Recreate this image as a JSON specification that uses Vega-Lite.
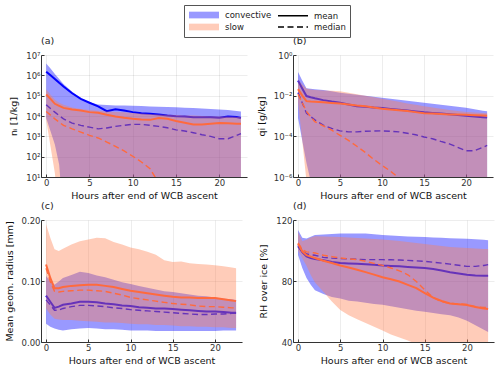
{
"$schema": "https://vega.github.io/schema/vega-lite/v6.json",
"padding": {"left": 4, "top": 4, "right": 1, "bottom": 1},
"data": {"values": [
{"p":"a","g":"convective","h":0,"lo":7940,"hi":3.8e6,"mean":1.51e6,"median":35500},
{"p":"a","g":"convective","h":0.5,"lo":1780,"hi":2.14e6,"mean":1.0e6,"median":23400},
{"p":"a","g":"convective","h":1,"lo":398,"hi":1.17e6,"mean":6.61e5,"median":15500},
{"p":"a","g":"convective","h":1.5,"lo":39.8,"hi":6.61e5,"mean":4.27e5,"median":10500},
{"p":"a","g":"convective","h":2,"lo":0.1,"hi":3.8e5,"mean":2.82e5,"median":7240},
{"p":"a","g":"convective","h":3,"lo":0.1,"hi":1.58e5,"mean":1.32e5,"median":4470},
{"p":"a","g":"convective","h":4,"lo":0.1,"hi":7.41e4,"mean":6.92e4,"median":3470},
{"p":"a","g":"convective","h":5,"lo":0.1,"hi":4.68e4,"mean":4.47e4,"median":2820},
{"p":"a","g":"convective","h":6,"lo":0.1,"hi":3.63e4,"mean":2.95e4,"median":2340},
{"p":"a","g":"convective","h":7,"lo":0.1,"hi":3.47e4,"mean":1.74e4,"median":2570},
{"p":"a","g":"convective","h":8,"lo":0.1,"hi":3.31e4,"mean":2.14e4,"median":3090},
{"p":"a","g":"convective","h":9,"lo":0.1,"hi":3.24e4,"mean":1.86e4,"median":3470},
{"p":"a","g":"convective","h":10,"lo":0.1,"hi":3.16e4,"mean":1.55e4,"median":3890},
{"p":"a","g":"convective","h":11,"lo":0.1,"hi":3.09e4,"mean":1.38e4,"median":3890},
{"p":"a","g":"convective","h":12,"lo":0.1,"hi":2.95e4,"mean":1.29e4,"median":3470},
{"p":"a","g":"convective","h":13,"lo":0.1,"hi":2.88e4,"mean":1.2e4,"median":3090},
{"p":"a","g":"convective","h":14,"lo":0.1,"hi":2.75e4,"mean":1.07e4,"median":2630},
{"p":"a","g":"convective","h":15,"lo":0.1,"hi":2.69e4,"mean":9770,"median":2090},
{"p":"a","g":"convective","h":16,"lo":0.1,"hi":2.57e4,"mean":9550,"median":1820},
{"p":"a","g":"convective","h":17,"lo":0.1,"hi":2.45e4,"mean":8710,"median":1510},
{"p":"a","g":"convective","h":18,"lo":0.1,"hi":2.34e4,"mean":8710,"median":1200},
{"p":"a","g":"convective","h":19,"lo":0.1,"hi":2.24e4,"mean":8710,"median":1000},
{"p":"a","g":"convective","h":20,"lo":0.1,"hi":2.09e4,"mean":8130,"median":759},
{"p":"a","g":"convective","h":21,"lo":0.1,"hi":1.95e4,"mean":9550,"median":759},
{"p":"a","g":"convective","h":22,"lo":0.1,"hi":1.78e4,"mean":8910,"median":1120},
{"p":"a","g":"convective","h":22.5,"lo":0.1,"hi":1.66e4,"mean":7940,"median":1350},
{"p":"a","g":"slow","h":0,"lo":6310,"hi":2.0e5,"mean":1.15e5,"median":16600},
{"p":"a","g":"slow","h":0.5,"lo":316,"hi":1.12e5,"mean":6.92e4,"median":11000},
{"p":"a","g":"slow","h":1,"lo":15.8,"hi":6.31e4,"mean":3.98e4,"median":7240},
{"p":"a","g":"slow","h":1.5,"lo":0.1,"hi":4.47e4,"mean":3.16e4,"median":5010},
{"p":"a","g":"slow","h":2,"lo":0.1,"hi":3.55e4,"mean":2.51e4,"median":3470},
{"p":"a","g":"slow","h":3,"lo":0.1,"hi":2.63e4,"mean":2.09e4,"median":2340},
{"p":"a","g":"slow","h":4,"lo":0.1,"hi":2.24e4,"mean":1.86e4,"median":1620},
{"p":"a","g":"slow","h":5,"lo":0.1,"hi":2.0e4,"mean":1.55e4,"median":1120},
{"p":"a","g":"slow","h":6,"lo":0.1,"hi":1.82e4,"mean":1.45e4,"median":832},
{"p":"a","g":"slow","h":7,"lo":0.1,"hi":1.66e4,"mean":1.15e4,"median":525},
{"p":"a","g":"slow","h":8,"lo":0.1,"hi":1.58e4,"mean":9550,"median":324},
{"p":"a","g":"slow","h":9,"lo":0.1,"hi":1.51e4,"mean":8130,"median":191},
{"p":"a","g":"slow","h":10,"lo":0.1,"hi":1.41e4,"mean":7240,"median":105},
{"p":"a","g":"slow","h":11,"lo":0.1,"hi":1.32e4,"mean":6760,"median":55},
{"p":"a","g":"slow","h":12,"lo":0.1,"hi":1.26e4,"mean":6460,"median":25.7},
{"p":"a","g":"slow","h":13,"lo":0.1,"hi":1.2e4,"mean":7940,"median":5},
{"p":"a","g":"slow","h":14,"lo":0.1,"hi":1.15e4,"mean":7240,"median":null},
{"p":"a","g":"slow","h":15,"lo":0.1,"hi":1.12e4,"mean":5620,"median":null},
{"p":"a","g":"slow","h":16,"lo":0.1,"hi":1.07e4,"mean":4680,"median":null},
{"p":"a","g":"slow","h":17,"lo":0.1,"hi":1.05e4,"mean":3800,"median":null},
{"p":"a","g":"slow","h":18,"lo":0.1,"hi":1.0e4,"mean":3800,"median":null},
{"p":"a","g":"slow","h":19,"lo":0.1,"hi":9770,"mean":4170,"median":null},
{"p":"a","g":"slow","h":20,"lo":0.1,"hi":9550,"mean":4470,"median":null},
{"p":"a","g":"slow","h":21,"lo":0.1,"hi":9330,"mean":4370,"median":null},
{"p":"a","g":"slow","h":22,"lo":0.1,"hi":9120,"mean":4170,"median":null},
{"p":"a","g":"slow","h":22.5,"lo":0.1,"hi":8910,"mean":4170,"median":null},

{"p":"b","g":"convective","h":0,"lo":7.94e-4,"hi":0.145,"mean":0.055,"median":0.0141},
{"p":"b","g":"convective","h":0.5,"lo":6.31e-5,"hi":0.0562,"mean":0.0224,"median":4.47e-3},
{"p":"b","g":"convective","h":1,"lo":5.01e-6,"hi":0.0234,"mean":9.55e-3,"median":1.38e-3},
{"p":"b","g":"convective","h":1.5,"lo":6.31e-7,"hi":0.0219,"mean":8.32e-3,"median":9.33e-4},
{"p":"b","g":"convective","h":2,"lo":1e-8,"hi":0.0209,"mean":7.41e-3,"median":6.46e-4},
{"p":"b","g":"convective","h":3,"lo":1e-8,"hi":0.0191,"mean":6.03e-3,"median":3.55e-4},
{"p":"b","g":"convective","h":4,"lo":1e-8,"hi":0.0166,"mean":5.13e-3,"median":2.45e-4},
{"p":"b","g":"convective","h":5,"lo":1e-8,"hi":0.0141,"mean":4.47e-3,"median":1.86e-4},
{"p":"b","g":"convective","h":6,"lo":1e-8,"hi":0.0126,"mean":3.72e-3,"median":1.66e-4},
{"p":"b","g":"convective","h":7,"lo":1e-8,"hi":0.0112,"mean":3.02e-3,"median":1.66e-4},
{"p":"b","g":"convective","h":8,"lo":1e-8,"hi":0.01,"mean":2.82e-3,"median":1.78e-4},
{"p":"b","g":"convective","h":9,"lo":1e-8,"hi":8.91e-3,"mean":2.63e-3,"median":1.82e-4},
{"p":"b","g":"convective","h":10,"lo":1e-8,"hi":7.94e-3,"mean":2.51e-3,"median":1.86e-4},
{"p":"b","g":"convective","h":11,"lo":1e-8,"hi":7.08e-3,"mean":2.24e-3,"median":1.78e-4},
{"p":"b","g":"convective","h":12,"lo":1e-8,"hi":6.31e-3,"mean":2.04e-3,"median":1.66e-4},
{"p":"b","g":"convective","h":13,"lo":1e-8,"hi":5.62e-3,"mean":1.86e-3,"median":1.41e-4},
{"p":"b","g":"convective","h":14,"lo":1e-8,"hi":5.01e-3,"mean":1.66e-3,"median":1.2e-4},
{"p":"b","g":"convective","h":15,"lo":1e-8,"hi":4.47e-3,"mean":1.51e-3,"median":9.33e-5},
{"p":"b","g":"convective","h":16,"lo":1e-8,"hi":3.98e-3,"mean":1.41e-3,"median":7.59e-5},
{"p":"b","g":"convective","h":17,"lo":1e-8,"hi":3.55e-3,"mean":1.32e-3,"median":5.62e-5},
{"p":"b","g":"convective","h":18,"lo":1e-8,"hi":3.16e-3,"mean":1.23e-3,"median":4.27e-5},
{"p":"b","g":"convective","h":19,"lo":1e-8,"hi":2.82e-3,"mean":1.12e-3,"median":2.88e-5},
{"p":"b","g":"convective","h":20,"lo":1e-8,"hi":2.51e-3,"mean":1.02e-3,"median":1.95e-5},
{"p":"b","g":"convective","h":21,"lo":1e-8,"hi":2.14e-3,"mean":9.55e-4,"median":1.95e-5},
{"p":"b","g":"convective","h":22,"lo":1e-8,"hi":1.82e-3,"mean":8.71e-4,"median":2.88e-5},
{"p":"b","g":"convective","h":22.5,"lo":1e-8,"hi":1.7e-3,"mean":8.32e-4,"median":3.55e-5},
{"p":"b","g":"slow","h":0,"lo":5.01e-3,"hi":0.0631,"mean":0.0209,"median":0.0117},
{"p":"b","g":"slow","h":0.5,"lo":6.31e-5,"hi":0.0355,"mean":0.01,"median":4.47e-3},
{"p":"b","g":"slow","h":1,"lo":6.31e-7,"hi":0.0224,"mean":5.37e-3,"median":1.7e-3},
{"p":"b","g":"slow","h":1.5,"lo":1e-8,"hi":0.02,"mean":5.13e-3,"median":9.33e-4},
{"p":"b","g":"slow","h":2,"lo":1e-8,"hi":0.0191,"mean":5.01e-3,"median":5.25e-4},
{"p":"b","g":"slow","h":3,"lo":1e-8,"hi":0.0182,"mean":4.68e-3,"median":3.31e-4},
{"p":"b","g":"slow","h":4,"lo":1e-8,"hi":0.0174,"mean":4.37e-3,"median":2.0e-4},
{"p":"b","g":"slow","h":5,"lo":1e-8,"hi":0.0166,"mean":4.07e-3,"median":1.12e-4},
{"p":"b","g":"slow","h":6,"lo":1e-8,"hi":0.0141,"mean":3.72e-3,"median":6.31e-5},
{"p":"b","g":"slow","h":7,"lo":1e-8,"hi":0.0117,"mean":3.31e-3,"median":3.24e-5},
{"p":"b","g":"slow","h":8,"lo":1e-8,"hi":0.01,"mean":3.02e-3,"median":1.62e-5},
{"p":"b","g":"slow","h":9,"lo":1e-8,"hi":8.32e-3,"mean":2.63e-3,"median":7.41e-6},
{"p":"b","g":"slow","h":10,"lo":1e-8,"hi":7.08e-3,"mean":2.29e-3,"median":3.72e-6},
{"p":"b","g":"slow","h":11,"lo":1e-8,"hi":6.03e-3,"mean":2.09e-3,"median":1.95e-6},
{"p":"b","g":"slow","h":12,"lo":1e-8,"hi":5.01e-3,"mean":1.91e-3,"median":8.91e-7},
{"p":"b","g":"slow","h":13,"lo":1e-8,"hi":4.17e-3,"mean":1.74e-3,"median":null},
{"p":"b","g":"slow","h":14,"lo":1e-8,"hi":3.55e-3,"mean":1.55e-3,"median":null},
{"p":"b","g":"slow","h":15,"lo":1e-8,"hi":3.02e-3,"mean":1.38e-3,"median":null},
{"p":"b","g":"slow","h":16,"lo":1e-8,"hi":2.63e-3,"mean":1.32e-3,"median":null},
{"p":"b","g":"slow","h":17,"lo":1e-8,"hi":2.29e-3,"mean":1.26e-3,"median":null},
{"p":"b","g":"slow","h":18,"lo":1e-8,"hi":2.0e-3,"mean":1.2e-3,"median":null},
{"p":"b","g":"slow","h":19,"lo":1e-8,"hi":1.74e-3,"mean":1.17e-3,"median":null},
{"p":"b","g":"slow","h":20,"lo":1e-8,"hi":1.58e-3,"mean":1.15e-3,"median":null},
{"p":"b","g":"slow","h":21,"lo":1e-8,"hi":1.48e-3,"mean":1.1e-3,"median":null},
{"p":"b","g":"slow","h":22,"lo":1e-8,"hi":1.41e-3,"mean":1.05e-3,"median":null},
{"p":"b","g":"slow","h":22.5,"lo":1e-8,"hi":1.38e-3,"mean":1.02e-3,"median":null},

{"p":"c","g":"convective","h":0,"lo":0.030,"hi":0.108,"mean":0.076,"median":0.069},
{"p":"c","g":"convective","h":0.5,"lo":0.025,"hi":0.100,"mean":0.066,"median":0.061},
{"p":"c","g":"convective","h":1,"lo":0.022,"hi":0.094,"mean":0.056,"median":0.052},
{"p":"c","g":"convective","h":1.5,"lo":0.020,"hi":0.099,"mean":0.058,"median":0.052},
{"p":"c","g":"convective","h":2,"lo":0.019,"hi":0.105,"mean":0.061,"median":0.055},
{"p":"c","g":"convective","h":3,"lo":0.021,"hi":0.110,"mean":0.063,"median":0.058},
{"p":"c","g":"convective","h":4,"lo":0.022,"hi":0.115,"mean":0.066,"median":0.060},
{"p":"c","g":"convective","h":5,"lo":0.023,"hi":0.113,"mean":0.066,"median":0.060},
{"p":"c","g":"convective","h":6,"lo":0.022,"hi":0.109,"mean":0.065,"median":0.059},
{"p":"c","g":"convective","h":7,"lo":0.021,"hi":0.106,"mean":0.063,"median":0.058},
{"p":"c","g":"convective","h":8,"lo":0.021,"hi":0.102,"mean":0.062,"median":0.056},
{"p":"c","g":"convective","h":9,"lo":0.020,"hi":0.098,"mean":0.060,"median":0.055},
{"p":"c","g":"convective","h":10,"lo":0.019,"hi":0.095,"mean":0.059,"median":0.053},
{"p":"c","g":"convective","h":11,"lo":0.019,"hi":0.092,"mean":0.057,"median":0.052},
{"p":"c","g":"convective","h":12,"lo":0.019,"hi":0.089,"mean":0.056,"median":0.051},
{"p":"c","g":"convective","h":13,"lo":0.018,"hi":0.086,"mean":0.055,"median":0.050},
{"p":"c","g":"convective","h":14,"lo":0.018,"hi":0.083,"mean":0.055,"median":0.049},
{"p":"c","g":"convective","h":15,"lo":0.018,"hi":0.082,"mean":0.054,"median":0.048},
{"p":"c","g":"convective","h":16,"lo":0.018,"hi":0.080,"mean":0.053,"median":0.047},
{"p":"c","g":"convective","h":17,"lo":0.018,"hi":0.078,"mean":0.052,"median":0.046},
{"p":"c","g":"convective","h":18,"lo":0.018,"hi":0.076,"mean":0.051,"median":0.045},
{"p":"c","g":"convective","h":19,"lo":0.018,"hi":0.075,"mean":0.050,"median":0.045},
{"p":"c","g":"convective","h":20,"lo":0.018,"hi":0.073,"mean":0.050,"median":0.046},
{"p":"c","g":"convective","h":21,"lo":0.019,"hi":0.071,"mean":0.049,"median":0.046},
{"p":"c","g":"convective","h":22,"lo":0.019,"hi":0.070,"mean":0.048,"median":0.047},
{"p":"c","g":"convective","h":22.5,"lo":0.019,"hi":0.069,"mean":0.048,"median":0.047},
{"p":"c","g":"slow","h":0,"lo":0.055,"hi":0.193,"mean":0.127,"median":0.121},
{"p":"c","g":"slow","h":0.5,"lo":0.045,"hi":0.171,"mean":0.105,"median":0.099},
{"p":"c","g":"slow","h":1,"lo":0.038,"hi":0.152,"mean":0.088,"median":0.083},
{"p":"c","g":"slow","h":1.5,"lo":0.037,"hi":0.149,"mean":0.088,"median":0.082},
{"p":"c","g":"slow","h":2,"lo":0.036,"hi":0.153,"mean":0.090,"median":0.083},
{"p":"c","g":"slow","h":3,"lo":0.036,"hi":0.160,"mean":0.092,"median":0.084},
{"p":"c","g":"slow","h":4,"lo":0.035,"hi":0.165,"mean":0.093,"median":0.085},
{"p":"c","g":"slow","h":5,"lo":0.034,"hi":0.168,"mean":0.094,"median":0.085},
{"p":"c","g":"slow","h":6,"lo":0.033,"hi":0.171,"mean":0.094,"median":0.084},
{"p":"c","g":"slow","h":7,"lo":0.032,"hi":0.170,"mean":0.092,"median":0.083},
{"p":"c","g":"slow","h":8,"lo":0.032,"hi":0.164,"mean":0.090,"median":0.080},
{"p":"c","g":"slow","h":9,"lo":0.031,"hi":0.160,"mean":0.087,"median":0.077},
{"p":"c","g":"slow","h":10,"lo":0.030,"hi":0.155,"mean":0.084,"median":0.073},
{"p":"c","g":"slow","h":11,"lo":0.029,"hi":0.152,"mean":0.082,"median":0.071},
{"p":"c","g":"slow","h":12,"lo":0.029,"hi":0.148,"mean":0.080,"median":0.069},
{"p":"c","g":"slow","h":13,"lo":0.028,"hi":0.143,"mean":0.078,"median":0.067},
{"p":"c","g":"slow","h":14,"lo":0.028,"hi":0.134,"mean":0.076,"median":0.065},
{"p":"c","g":"slow","h":15,"lo":0.027,"hi":0.131,"mean":0.074,"median":0.063},
{"p":"c","g":"slow","h":16,"lo":0.026,"hi":0.132,"mean":0.073,"median":0.062},
{"p":"c","g":"slow","h":17,"lo":0.026,"hi":0.129,"mean":0.073,"median":0.061},
{"p":"c","g":"slow","h":18,"lo":0.025,"hi":0.128,"mean":0.072,"median":0.059},
{"p":"c","g":"slow","h":19,"lo":0.025,"hi":0.127,"mean":0.072,"median":0.058},
{"p":"c","g":"slow","h":20,"lo":0.024,"hi":0.126,"mean":0.072,"median":0.058},
{"p":"c","g":"slow","h":21,"lo":0.024,"hi":0.124,"mean":0.070,"median":0.057},
{"p":"c","g":"slow","h":22,"lo":0.023,"hi":0.122,"mean":0.068,"median":0.056},
{"p":"c","g":"slow","h":22.5,"lo":0.023,"hi":0.121,"mean":0.067,"median":0.056},

{"p":"d","g":"convective","h":0,"lo":97,"hi":113.4,"mean":102.8,"median":103.9},
{"p":"d","g":"convective","h":0.5,"lo":88.5,"hi":108.3,"mean":99,"median":99.9},
{"p":"d","g":"convective","h":1,"lo":82,"hi":107.9,"mean":96.2,"median":97.7},
{"p":"d","g":"convective","h":1.5,"lo":77.5,"hi":109,"mean":95,"median":97.2},
{"p":"d","g":"convective","h":2,"lo":74,"hi":110.1,"mean":94.4,"median":96.9},
{"p":"d","g":"convective","h":3,"lo":71.5,"hi":110.5,"mean":93.6,"median":95.5},
{"p":"d","g":"convective","h":4,"lo":69.5,"hi":110.8,"mean":92.5,"median":95},
{"p":"d","g":"convective","h":5,"lo":68.5,"hi":111.2,"mean":91.8,"median":94.7},
{"p":"d","g":"convective","h":6,"lo":67,"hi":111.2,"mean":91.5,"median":94.5},
{"p":"d","g":"convective","h":7,"lo":66.5,"hi":111.2,"mean":91.3,"median":94.2},
{"p":"d","g":"convective","h":8,"lo":65.8,"hi":111.2,"mean":91,"median":94},
{"p":"d","g":"convective","h":9,"lo":65,"hi":110.7,"mean":90.7,"median":94},
{"p":"d","g":"convective","h":10,"lo":64.5,"hi":110.1,"mean":90.2,"median":94},
{"p":"d","g":"convective","h":11,"lo":63.5,"hi":109.8,"mean":89.9,"median":93.9},
{"p":"d","g":"convective","h":12,"lo":62.5,"hi":109.5,"mean":89.6,"median":93.8},
{"p":"d","g":"convective","h":13,"lo":61.5,"hi":109.2,"mean":89.2,"median":93.5},
{"p":"d","g":"convective","h":14,"lo":60.5,"hi":109,"mean":88.9,"median":93.2},
{"p":"d","g":"convective","h":15,"lo":59.8,"hi":108.8,"mean":88.5,"median":92.9},
{"p":"d","g":"convective","h":16,"lo":59,"hi":108.6,"mean":87.8,"median":92.3},
{"p":"d","g":"convective","h":17,"lo":58.2,"hi":108.3,"mean":86.9,"median":91.7},
{"p":"d","g":"convective","h":18,"lo":57.5,"hi":108.1,"mean":85.8,"median":91.1},
{"p":"d","g":"convective","h":19,"lo":56,"hi":107.9,"mean":84.9,"median":90.3},
{"p":"d","g":"convective","h":20,"lo":54,"hi":107.7,"mean":84.1,"median":89.6},
{"p":"d","g":"convective","h":21,"lo":51,"hi":107.3,"mean":83.6,"median":89.6},
{"p":"d","g":"convective","h":22,"lo":48,"hi":107,"mean":83.4,"median":90.2},
{"p":"d","g":"convective","h":22.5,"lo":46.5,"hi":106.8,"mean":83.4,"median":90.7},
{"p":"d","g":"slow","h":0,"lo":100,"hi":112,"mean":104.4,"median":105},
{"p":"d","g":"slow","h":0.5,"lo":95,"hi":106,"mean":99.5,"median":100.6},
{"p":"d","g":"slow","h":1,"lo":90,"hi":107,"mean":96.9,"median":99.1},
{"p":"d","g":"slow","h":1.5,"lo":84,"hi":108.5,"mean":96,"median":98.8},
{"p":"d","g":"slow","h":2,"lo":79,"hi":109.4,"mean":95.1,"median":98.4},
{"p":"d","g":"slow","h":3,"lo":73,"hi":109.2,"mean":93.3,"median":96.9},
{"p":"d","g":"slow","h":4,"lo":66.5,"hi":109,"mean":91.8,"median":96},
{"p":"d","g":"slow","h":5,"lo":61,"hi":108.8,"mean":90.2,"median":95.1},
{"p":"d","g":"slow","h":6,"lo":57.5,"hi":108.5,"mean":88.8,"median":94.5},
{"p":"d","g":"slow","h":7,"lo":55,"hi":108.2,"mean":87.4,"median":94},
{"p":"d","g":"slow","h":8,"lo":52.5,"hi":107.8,"mean":85.8,"median":92.9},
{"p":"d","g":"slow","h":9,"lo":50,"hi":107.5,"mean":84.2,"median":91.6},
{"p":"d","g":"slow","h":10,"lo":47.5,"hi":107.2,"mean":82.5,"median":90.2},
{"p":"d","g":"slow","h":11,"lo":45,"hi":106.7,"mean":81.1,"median":88.5},
{"p":"d","g":"slow","h":12,"lo":43,"hi":106.2,"mean":79.7,"median":86.7},
{"p":"d","g":"slow","h":13,"lo":41,"hi":105.6,"mean":77.5,"median":84.1},
{"p":"d","g":"slow","h":14,"lo":38.5,"hi":105,"mean":75.3,"median":79.7},
{"p":"d","g":"slow","h":15,"lo":36.5,"hi":104.3,"mean":72,"median":74.2},
{"p":"d","g":"slow","h":16,"lo":35,"hi":103.6,"mean":69.1,"median":69.1},
{"p":"d","g":"slow","h":17,"lo":33.5,"hi":102.9,"mean":66.9,"median":66.4},
{"p":"d","g":"slow","h":18,"lo":32,"hi":102.3,"mean":65.3,"median":65.3},
{"p":"d","g":"slow","h":19,"lo":30.5,"hi":102,"mean":64.7,"median":65},
{"p":"d","g":"slow","h":20,"lo":29,"hi":101.7,"mean":64.2,"median":64.7},
{"p":"d","g":"slow","h":21,"lo":28,"hi":101.3,"mean":63,"median":63.1},
{"p":"d","g":"slow","h":22,"lo":27,"hi":101,"mean":62,"median":62.7},
{"p":"d","g":"slow","h":22.5,"lo":26,"hi":101,"mean":61.6,"median":62.5}
]},
"columns": 2,
"spacing": {"row": 0, "column": 9},
"concat": [
{
 "width": 206, "height": 122, "title": "(a)",
 "layer": [
  {"transform": [{"filter": "datum.p == 'a' && datum.g == 'convective'"}],
   "mark": {"type": "area", "fill": "#0000ff", "fillOpacity": 0.4, "clip": true, "invalid": "filter"},
   "encoding": {
    "x": {"field": "h", "type": "quantitative", "scale": {"domain": [-0.6, 23.2], "nice": false, "zero": false}, "axis": {"values": [0,5,10,15,20], "title": "Hours after end of WCB ascent"}},
    "y": {"field": "hi", "type": "quantitative", "scale": {"type": "log", "domain": [10, 1e7], "nice": false}, "axis": {"values": [10,100,1000,10000,100000,1000000,10000000], "title": "nᵢ [1/kg]", "labelExpr": "['10⁰','10¹','10²','10³','10⁴','10⁵','10⁶','10⁷'][round(log(datum.value)/LN10)]"}},
    "y2": {"field": "lo"}
   }},
  {"transform": [{"filter": "datum.p == 'a' && datum.g == 'convective'"}],
   "mark": {"type": "line", "stroke": "#0000ff", "strokeWidth": 2, "clip": true, "invalid": "filter"},
   "encoding": {"x": {"field": "h", "type": "quantitative"}, "y": {"field": "mean", "type": "quantitative"}}},
  {"transform": [{"filter": "datum.p == 'a' && datum.g == 'convective'"}],
   "mark": {"type": "line", "stroke": "#0000ff", "strokeWidth": 1.4, "strokeDash": [6, 3.5], "clip": true, "invalid": "filter"},
   "encoding": {"x": {"field": "h", "type": "quantitative"}, "y": {"field": "median", "type": "quantitative"}}},
  {"transform": [{"filter": "datum.p == 'a' && datum.g == 'slow'"}],
   "mark": {"type": "area", "fill": "#ff7f50", "fillOpacity": 0.4, "clip": true, "invalid": "filter"},
   "encoding": {"x": {"field": "h", "type": "quantitative"}, "y": {"field": "hi", "type": "quantitative"}, "y2": {"field": "lo"}}},
  {"transform": [{"filter": "datum.p == 'a' && datum.g == 'slow'"}],
   "mark": {"type": "line", "stroke": "#ff6a3d", "strokeWidth": 2, "clip": true, "invalid": "filter"},
   "encoding": {"x": {"field": "h", "type": "quantitative"}, "y": {"field": "mean", "type": "quantitative"}}},
  {"transform": [{"filter": "datum.p == 'a' && datum.g == 'slow'"}],
   "mark": {"type": "line", "stroke": "#ff6a3d", "strokeWidth": 1.4, "strokeDash": [6, 3.5], "clip": true, "invalid": "filter"},
   "encoding": {"x": {"field": "h", "type": "quantitative"}, "y": {"field": "median", "type": "quantitative"}}},
  {"transform": [{"filter": "false"}],
   "mark": {"type": "point", "filled": true, "opacity": 1},
   "encoding": {
    "x": {"field": "h", "type": "quantitative"},
    "y": {"field": "hi", "type": "quantitative"},
    "fill": {"field": "g", "type": "nominal", "scale": {"domain": ["convective","slow","mean","median"], "range": ["#9999ff","#ffccb9","transparent","transparent"]},
      "legend": {"orient": "none", "legendX": 143, "legendY": -50, "title": null, "columns": 2, "columnPadding": 3, "rowPadding": 0, "padding": 4, "symbolSize": 100, "symbolStrokeWidth": 1.3, "labelOffset": 25, "labelFontSize": 8.5, "labelFont": "DejaVu Sans", "labelColor": "#222", "strokeColor": "#555", "fillColor": "white"}},
    "stroke": {"field": "g", "type": "nominal", "scale": {"domain": ["convective","slow","mean","median"], "range": ["transparent","transparent","#000000","#000000"]}},
    "shape": {"field": "g", "type": "nominal", "scale": {"domain": ["convective","slow","mean","median"], "range": ["M-1,-0.67H5V0.67H-1Z","M-1,-0.67H5V0.67H-1Z","M-1,0H5","M-1,0H5"]}},
    "strokeDash": {"field": "g", "type": "nominal", "scale": {"domain": ["convective","slow","mean","median"], "range": [[1,0],[1,0],[1,0],[6,3.5]]}}
   }}
 ]
},
{
 "width": 200, "height": 122, "title": "(b)",
 "layer": [
  {"transform": [{"filter": "datum.p == 'b' && datum.g == 'convective'"}],
   "mark": {"type": "area", "fill": "#0000ff", "fillOpacity": 0.4, "clip": true, "invalid": "filter"},
   "encoding": {
    "x": {"field": "h", "type": "quantitative", "scale": {"domain": [-0.6, 23.2], "nice": false, "zero": false}, "axis": {"values": [0,5,10,15,20], "title": "Hours after end of WCB ascent"}},
    "y": {"field": "hi", "type": "quantitative", "scale": {"type": "log", "domain": [1e-6, 1], "nice": false}, "axis": {"values": [0.000001,0.0001,0.01,1], "title": "qi [g/kg]", "labelExpr": "datum.value > 0.5 ? '10⁰' : datum.value > 0.005 ? '10⁻²' : datum.value > 0.00005 ? '10⁻⁴' : '10⁻⁶'"}},
    "y2": {"field": "lo"}
   }},
  {"transform": [{"filter": "datum.p == 'b' && datum.g == 'convective'"}],
   "mark": {"type": "line", "stroke": "#0000ff", "strokeWidth": 2, "clip": true, "invalid": "filter"},
   "encoding": {"x": {"field": "h", "type": "quantitative"}, "y": {"field": "mean", "type": "quantitative"}}},
  {"transform": [{"filter": "datum.p == 'b' && datum.g == 'convective'"}],
   "mark": {"type": "line", "stroke": "#0000ff", "strokeWidth": 1.4, "strokeDash": [6, 3.5], "clip": true, "invalid": "filter"},
   "encoding": {"x": {"field": "h", "type": "quantitative"}, "y": {"field": "median", "type": "quantitative"}}},
  {"transform": [{"filter": "datum.p == 'b' && datum.g == 'slow'"}],
   "mark": {"type": "area", "fill": "#ff7f50", "fillOpacity": 0.4, "clip": true, "invalid": "filter"},
   "encoding": {"x": {"field": "h", "type": "quantitative"}, "y": {"field": "hi", "type": "quantitative"}, "y2": {"field": "lo"}}},
  {"transform": [{"filter": "datum.p == 'b' && datum.g == 'slow'"}],
   "mark": {"type": "line", "stroke": "#ff6a3d", "strokeWidth": 2, "clip": true, "invalid": "filter"},
   "encoding": {"x": {"field": "h", "type": "quantitative"}, "y": {"field": "mean", "type": "quantitative"}}},
  {"transform": [{"filter": "datum.p == 'b' && datum.g == 'slow'"}],
   "mark": {"type": "line", "stroke": "#ff6a3d", "strokeWidth": 1.4, "strokeDash": [6, 3.5], "clip": true, "invalid": "filter"},
   "encoding": {"x": {"field": "h", "type": "quantitative"}, "y": {"field": "median", "type": "quantitative"}}}
 ]
},
{
 "width": 201, "height": 122, "title": "(c)",
 "layer": [
  {"transform": [{"filter": "datum.p == 'c' && datum.g == 'convective'"}],
   "mark": {"type": "area", "fill": "#0000ff", "fillOpacity": 0.4, "clip": true, "invalid": "filter"},
   "encoding": {
    "x": {"field": "h", "type": "quantitative", "scale": {"domain": [-0.6, 23.2], "nice": false, "zero": false}, "axis": {"values": [0,5,10,15,20], "title": "Hours after end of WCB ascent"}},
    "y": {"field": "hi", "type": "quantitative", "scale": {"domain": [0, 0.2], "nice": false}, "axis": {"values": [0,0.05,0.1,0.15,0.2], "format": ".2f", "title": "Mean geom. radius [mm]"}},
    "y2": {"field": "lo"}
   }},
  {"transform": [{"filter": "datum.p == 'c' && datum.g == 'convective'"}],
   "mark": {"type": "line", "stroke": "#0000ff", "strokeWidth": 2, "clip": true, "invalid": "filter"},
   "encoding": {"x": {"field": "h", "type": "quantitative"}, "y": {"field": "mean", "type": "quantitative"}}},
  {"transform": [{"filter": "datum.p == 'c' && datum.g == 'convective'"}],
   "mark": {"type": "line", "stroke": "#0000ff", "strokeWidth": 1.4, "strokeDash": [6, 3.5], "clip": true, "invalid": "filter"},
   "encoding": {"x": {"field": "h", "type": "quantitative"}, "y": {"field": "median", "type": "quantitative"}}},
  {"transform": [{"filter": "datum.p == 'c' && datum.g == 'slow'"}],
   "mark": {"type": "area", "fill": "#ff7f50", "fillOpacity": 0.4, "clip": true, "invalid": "filter"},
   "encoding": {"x": {"field": "h", "type": "quantitative"}, "y": {"field": "hi", "type": "quantitative"}, "y2": {"field": "lo"}}},
  {"transform": [{"filter": "datum.p == 'c' && datum.g == 'slow'"}],
   "mark": {"type": "line", "stroke": "#ff6a3d", "strokeWidth": 2, "clip": true, "invalid": "filter"},
   "encoding": {"x": {"field": "h", "type": "quantitative"}, "y": {"field": "mean", "type": "quantitative"}}},
  {"transform": [{"filter": "datum.p == 'c' && datum.g == 'slow'"}],
   "mark": {"type": "line", "stroke": "#ff6a3d", "strokeWidth": 1.4, "strokeDash": [6, 3.5], "clip": true, "invalid": "filter"},
   "encoding": {"x": {"field": "h", "type": "quantitative"}, "y": {"field": "median", "type": "quantitative"}}}
 ]
},
{
 "width": 201, "height": 122, "title": "(d)",
 "layer": [
  {"transform": [{"filter": "datum.p == 'd' && datum.g == 'convective'"}],
   "mark": {"type": "area", "fill": "#0000ff", "fillOpacity": 0.4, "clip": true, "invalid": "filter"},
   "encoding": {
    "x": {"field": "h", "type": "quantitative", "scale": {"domain": [-0.6, 23.2], "nice": false, "zero": false}, "axis": {"values": [0,5,10,15,20], "title": "Hours after end of WCB ascent"}},
    "y": {"field": "hi", "type": "quantitative", "scale": {"domain": [40, 120], "nice": false, "zero": false}, "axis": {"values": [40,60,80,100,120], "title": "RH over ice [%]"}},
    "y2": {"field": "lo"}
   }},
  {"transform": [{"filter": "datum.p == 'd' && datum.g == 'convective'"}],
   "mark": {"type": "line", "stroke": "#0000ff", "strokeWidth": 2, "clip": true, "invalid": "filter"},
   "encoding": {"x": {"field": "h", "type": "quantitative"}, "y": {"field": "mean", "type": "quantitative"}}},
  {"transform": [{"filter": "datum.p == 'd' && datum.g == 'convective'"}],
   "mark": {"type": "line", "stroke": "#0000ff", "strokeWidth": 1.4, "strokeDash": [6, 3.5], "clip": true, "invalid": "filter"},
   "encoding": {"x": {"field": "h", "type": "quantitative"}, "y": {"field": "median", "type": "quantitative"}}},
  {"transform": [{"filter": "datum.p == 'd' && datum.g == 'slow'"}],
   "mark": {"type": "area", "fill": "#ff7f50", "fillOpacity": 0.4, "clip": true, "invalid": "filter"},
   "encoding": {"x": {"field": "h", "type": "quantitative"}, "y": {"field": "hi", "type": "quantitative"}, "y2": {"field": "lo"}}},
  {"transform": [{"filter": "datum.p == 'd' && datum.g == 'slow'"}],
   "mark": {"type": "line", "stroke": "#ff6a3d", "strokeWidth": 2, "clip": true, "invalid": "filter"},
   "encoding": {"x": {"field": "h", "type": "quantitative"}, "y": {"field": "mean", "type": "quantitative"}}},
  {"transform": [{"filter": "datum.p == 'd' && datum.g == 'slow'"}],
   "mark": {"type": "line", "stroke": "#ff6a3d", "strokeWidth": 1.4, "strokeDash": [6, 3.5], "clip": true, "invalid": "filter"},
   "encoding": {"x": {"field": "h", "type": "quantitative"}, "y": {"field": "median", "type": "quantitative"}}}
 ]
}
],
"config": {
 "view": {"stroke": null},
 "font": "DejaVu Sans",
 "title": {"anchor": "start", "frame": "group", "fontSize": 9.5, "fontWeight": "normal", "font": "DejaVu Sans", "color": "#222", "offset": 6},
 "axis": {"labelFont": "DejaVu Sans", "titleFont": "DejaVu Sans", "labelFontSize": 8.5, "titleFontSize": 9.5, "titleFontWeight": "normal", "labelColor": "#333", "titleColor": "#111", "domainColor": "#333", "tickColor": "#333", "gridColor": "#000", "gridOpacity": 0.07, "tickSize": -3, "labelPadding": 4, "labelFlush": false},
 "axisX": {"titlePadding": 4},
 "axisY": {"titlePadding": 7}
}
}
